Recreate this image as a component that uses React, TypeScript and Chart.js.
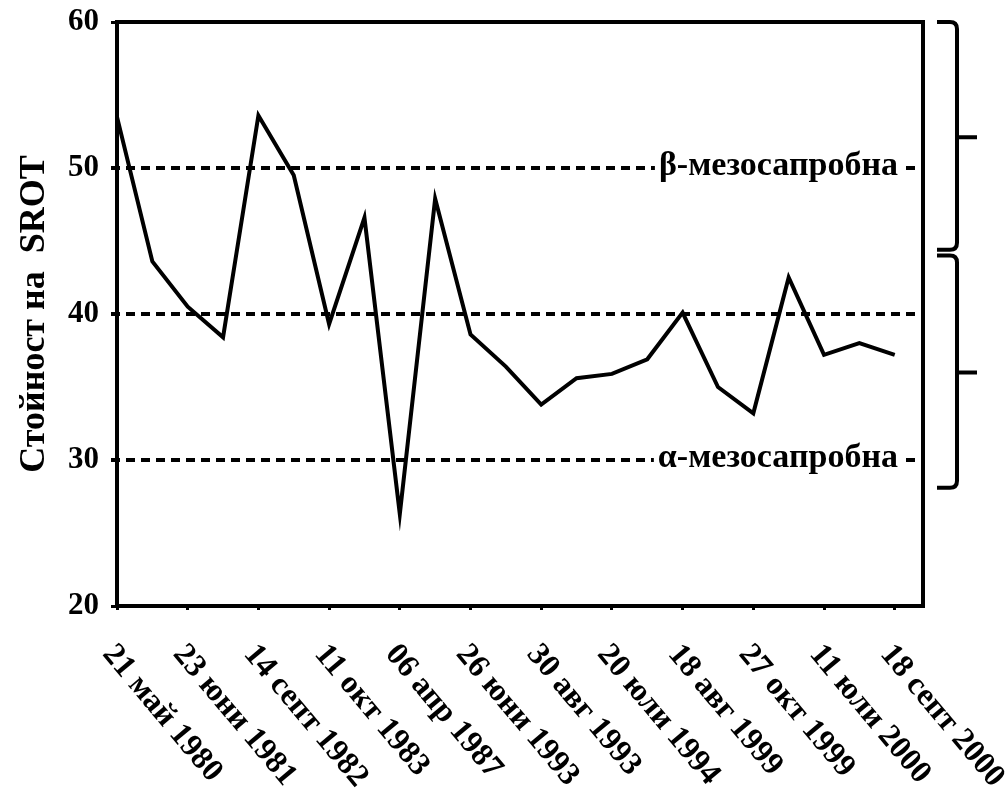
import React, { useEffect, useRef } from "react";
import { Chart, registerables } from "chart.js";

Chart.register(...registerables);

// ---- data ----
const dateLabels = [
  "21 май 1980",
  "23 юни 1981",
  "14 септ 1982",
  "11 окт 1983",
  "06 апр 1987",
  "26 юни 1993",
  "30 авг 1993",
  "20 юли 1994",
  "18 авг 1999",
  "27 окт 1999",
  "11 юли 2000",
  "18 септ 2000",
];
const srotValues = [
  53.5, 43.6, 40.5, 38.4, 53.6, 49.5, 39.3, 46.6, 26.3, 47.9, 38.6, 36.4,
  33.8, 35.6, 35.9, 36.9, 40.1, 35.0, 33.2, 42.5, 37.2, 38.0, 37.2,
];
const yTicks = [20, 30, 40, 50, 60];
const refLevels = [50, 40, 30];
const refLabels = ["β-мезосапробна", "", "α-мезосапробна"];
// [top value, bottom value, tip value]
const braceRanges = [
  [60, 44.4, 52.1],
  [44.0, 28.1, 36.0],
];
const yTitle = "Стойност на  SROT";

const SERIF = "'Liberation Serif', 'Times New Roman', serif";

const decorPlugin = {
  id: "decor",
  beforeDatasetsDraw(chart: any) {
    const { ctx, chartArea: a, scales } = chart;
    const y = scales.y;
    ctx.save();
    ctx.strokeStyle = "#000";
    ctx.lineWidth = 4;
    ctx.setLineDash([9, 6]);
    refLevels.forEach((v) => {
      const py = y.getPixelForValue(v);
      ctx.beginPath();
      ctx.moveTo(a.left - 6, py);
      ctx.lineTo(a.right, py);
      ctx.stroke();
    });
    ctx.setLineDash([]);
    ctx.font = `bold 34px ${SERIF}`;
    ctx.textAlign = "right";
    ctx.textBaseline = "alphabetic";
    refLevels.forEach((v, i) => {
      const t = refLabels[i];
      if (!t) return;
      const py = y.getPixelForValue(v);
      const xr = a.right - 25;
      const w = ctx.measureText(t).width;
      ctx.fillStyle = "#fff";
      ctx.fillRect(xr - w - 4, py - 18, w + 7, 36);
      ctx.fillStyle = "#000";
      ctx.fillText(t, xr, py + 7);
    });
    ctx.restore();
  },
  afterDraw(chart: any) {
    const { ctx, chartArea: a, scales } = chart;
    const y = scales.y;
    const x = scales.x;
    ctx.save();
    // frame
    ctx.strokeStyle = "#000";
    ctx.lineWidth = 4;
    ctx.strokeRect(a.left, a.top, a.right - a.left, a.bottom - a.top);
    // braces
    ctx.lineWidth = 4;
    braceRanges.forEach(([top, bot, tip]) => {
      const t = y.getPixelForValue(top);
      const b = y.getPixelForValue(bot);
      const m = y.getPixelForValue(tip);
      const xl = a.right + 14;
      const xv = a.right + 34;
      const xt = a.right + 54;
      ctx.beginPath();
      ctx.moveTo(xl, t);
      ctx.lineTo(xv - 7, t);
      ctx.quadraticCurveTo(xv, t, xv, t + 7);
      ctx.lineTo(xv, b - 7);
      ctx.quadraticCurveTo(xv, b, xv - 7, b);
      ctx.lineTo(xl, b);
      ctx.moveTo(xv, m);
      ctx.lineTo(xt, m);
      ctx.stroke();
    });
    // rotated date labels
    ctx.fillStyle = "#000";
    ctx.font = `bold 32px ${SERIF}`;
    ctx.textAlign = "left";
    ctx.textBaseline = "middle";
    dateLabels.forEach((t, i) => {
      const px = x.getPixelForValue(i * 2) - 9;
      const py = a.bottom + 43;
      ctx.save();
      ctx.translate(px, py);
      ctx.rotate((50 * Math.PI) / 180);
      ctx.fillText(t, 0, 0);
      ctx.restore();
    });
    ctx.restore();
  },
};

export default function App() {
  const ref = useRef<HTMLCanvasElement | null>(null);
  useEffect(() => {
    if (!ref.current) return;
    const points = srotValues.map((v, i) => ({ x: i, y: v }));
    const chart = new Chart(ref.current, {
      type: "line",
      data: {
        datasets: [
          {
            data: points,
            borderColor: "#000",
            borderWidth: 4,
            pointRadius: 0,
            tension: 0,
            fill: false,
            borderJoinStyle: "miter",
          },
        ],
      },
      options: {
        animation: false,
        responsive: false,
        devicePixelRatio: 1,
        layout: { padding: { top: 22, right: 83, left: 0, bottom: 0 } },
        plugins: {
          legend: { display: false },
          tooltip: { enabled: false },
        },
        scales: {
          x: {
            type: "linear",
            min: 0,
            max: 22.8,
            afterBuildTicks: (scale: any) => {
              scale.ticks = dateLabels.map((_, i) => ({ value: i * 2 }));
            },
            afterFit: (scale: any) => {
              scale.height = 190;
              scale.paddingLeft = 0;
              scale.paddingRight = 0;
            },
            ticks: { display: false },
            grid: {
              drawOnChartArea: false,
              tickLength: 4,
              color: "#000",
              lineWidth: 3,
            },
            border: { display: false },
          },
          y: {
            type: "linear",
            min: 20,
            max: 60,
            afterBuildTicks: (scale: any) => {
              scale.ticks = yTicks.map((v) => ({ value: v }));
            },
            afterFit: (scale: any) => {
              scale.width = 117;
              scale.paddingTop = 0;
              scale.paddingBottom = 0;
            },
            ticks: {
              color: "#000",
              padding: 12,
              font: { family: SERIF, weight: "bold", size: 31 },
            },
            grid: {
              drawOnChartArea: false,
              tickLength: 6,
              color: "#000",
              lineWidth: 3,
            },
            border: { display: false },
            title: {
              display: true,
              text: yTitle,
              color: "#000",
              font: { family: SERIF, weight: "bold", size: 36 },
              padding: { top: 13, bottom: 0 },
            },
          },
        },
      },
      plugins: [decorPlugin],
    });
    return () => chart.destroy();
  }, []);
  return (
    <canvas
      ref={ref}
      width={1006}
      height={796}
      style={{ position: "absolute", left: 0, top: 0, background: "#fff" }}
    />
  );
}
